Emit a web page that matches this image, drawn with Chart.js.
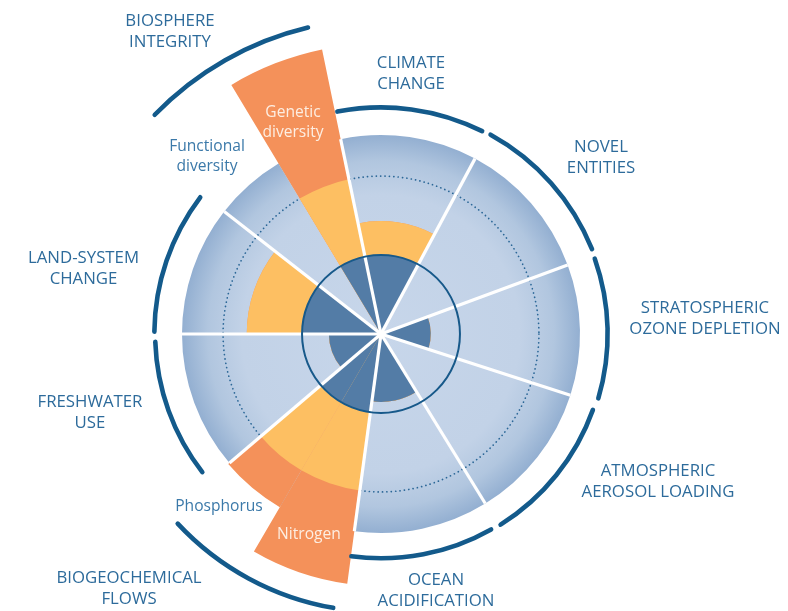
<!DOCTYPE html>
<html>
<head>
<meta charset="utf-8">
<script src="https://cdn.jsdelivr.net/npm/chart.js@4.4.1/dist/chart.umd.min.js"></script>
<style>
  html, body { margin: 0; padding: 0; background: #fff; }
  #wrap { position: relative; width: 788px; height: 611px; }
</style>
</head>
<body>
<div id="wrap"><canvas id="pb"></canvas></div>
<script>
// ── data ──
// sub-sectors, clockwise, starting just left of north
const segments = ['Climate change', 'Novel entities', 'Stratospheric ozone depletion',
  'Atmospheric aerosol loading', 'Ocean acidification', 'Nitrogen', 'Phosphorus',
  'Freshwater use', 'Land-system change', 'Functional diversity', 'Genetic diversity'];
// angular width of each sub-sector (deg)
const segmentAngles = [39.9, 41.5, 38.2, 40.5, 39.3, 22.6, 19.3, 40.4, 38.0, 21.0, 19.3];
// control variable, in multiples of the boundary (null = not yet quantified)
const status = [1.43, null, 0.63, null, 0.86, 3.19, 2.54, 0.66, 1.70, null, 3.68];
// white divider at the start of the sub-sector
const dividers = [true, true, true, true, true, true, false, true, true, true, false];
const START_ANGLE = 348.3;

const SAFE = 1;        // planetary boundary (solid ring)
const HIGH_RISK = 2;   // end of the zone of uncertainty (dotted ring)
const DISK = 2.52;     // rim of the blue disk

// brackets around the nine processes
const bracketFrom = [348.9, 28.8, 70.6, 109.7, 150.6, 189.9, 232.3, 270.6, 314.1];
const bracketTo   = [26.5, 68.1, 106.5, 147.9, 187.6, 227.0, 268.0, 307.1, 346.6];
const bracketR    = [2.87, 2.88, 2.87, 2.85, 2.84, 3.52, 2.86, 2.87, 3.99];

const titles = [['CLIMATE', 'CHANGE'], ['NOVEL', 'ENTITIES'], ['STRATOSPHERIC', 'OZONE DEPLETION'],
  ['ATMOSPHERIC', 'AEROSOL LOADING'], ['OCEAN', 'ACIDIFICATION'], ['BIOGEOCHEMICAL', 'FLOWS'],
  ['FRESHWATER', 'USE'], ['LAND-SYSTEM', 'CHANGE'], ['BIOSPHERE', 'INTEGRITY']];
const subTitles = [['Functional', 'diversity'], ['Genetic', 'diversity'], ['Phosphorus'], ['Nitrogen']];

// ── layout / styles ──
const titlePos = [[411, 63], [601, 147], [705, 308], [658, 471], [436, 580], [129, 578], [90, 402], [83.5, 258], [170, 21]];
const subPos = [[207, 147], [293, 113], [219, 507], [309, 535]];
const subOnOrange = [false, true, false, true];

const C = {
  safe: '#537ca6',
  risk: '#fdbf62',
  high: '#f4915a',
  ring: '#17598a',
  dots: '#2b6797',
  bracket: '#135a8b',
  title: '#2d6b9b',
  sub: '#3b79a9',
  onOrange: '#fdeee2',
};
const FONT = '"Open Sans", "DejaVu Sans", sans-serif';

const rad = d => (d - 90) * Math.PI / 180;

const safePart = status.map(v => v == null ? 0 : Math.min(v, SAFE));
const riskPart = status.map(v => v == null ? 0 : Math.min(v, HIGH_RISK));
const highPart = status.map(v => v == null ? 0 : v);
const diskPart = segments.map(() => DISK);

function diskFill(c) {
  const s = c.chart.scales.r;
  if (!s || !s.drawingArea) return '#c3d3e8';
  const g = c.chart.ctx.createRadialGradient(s.xCenter, s.yCenter, 0, s.xCenter, s.yCenter, s.drawingArea);
  g.addColorStop(0, '#c7d6ea');
  g.addColorStop(0.7, '#c2d2e7');
  g.addColorStop(0.87, '#b1c6df');
  g.addColorStop(1, '#93afd1');
  return g;
}

const pbPlugin = {
  id: 'pb',
  afterDatasetDraw(chart, args) {
    // dotted ring sits on the disk, under the coloured wedges
    if (args.index !== 3) return;
    const s = chart.scales.r, ctx = chart.ctx;
    ctx.save();
    ctx.strokeStyle = C.dots;
    ctx.lineWidth = 1.7;
    ctx.lineCap = 'round';
    ctx.setLineDash([0.1, 4.3]);
    ctx.beginPath();
    ctx.arc(s.xCenter, s.yCenter, s.getDistanceFromCenterForValue(HIGH_RISK), 0, Math.PI * 2);
    ctx.stroke();
    ctx.restore();
  },
  afterDatasetsDraw(chart) {
    const s = chart.scales.r, ctx = chart.ctx;
    const rEdge = s.getDistanceFromCenterForValue(DISK);
    ctx.save();
    ctx.strokeStyle = '#ffffff';
    ctx.lineWidth = 3.2;
    let a = START_ANGLE;
    segmentAngles.forEach((w, i) => {
      if (dividers[i]) {
        ctx.beginPath();
        ctx.moveTo(s.xCenter, s.yCenter);
        ctx.lineTo(s.xCenter + rEdge * Math.cos(rad(a)), s.yCenter + rEdge * Math.sin(rad(a)));
        ctx.stroke();
      }
      a += w;
    });
    ctx.restore();
  },
  afterDraw(chart) {
    const s = chart.scales.r, ctx = chart.ctx;
    ctx.save();
    // brackets
    ctx.strokeStyle = C.bracket;
    ctx.lineWidth = 4.6;
    ctx.lineCap = 'round';
    bracketFrom.forEach((f, i) => {
      const span = (bracketTo[i] - f + 360) % 360;
      ctx.beginPath();
      ctx.arc(s.xCenter, s.yCenter, s.getDistanceFromCenterForValue(bracketR[i]), rad(f), rad(f + span));
      ctx.stroke();
    });
    // labels
    ctx.textAlign = 'center';
    ctx.textBaseline = 'middle';
    ctx.fillStyle = C.title;
    ctx.font = '400 16.8px ' + FONT;
    titles.forEach((lines, i) => {
      lines.forEach((t, j) => ctx.fillText(t, titlePos[i][0], titlePos[i][1] + j * 21));
    });
    ctx.font = '400 15.6px ' + FONT;
    subTitles.forEach((lines, i) => {
      ctx.fillStyle = subOnOrange[i] ? C.onOrange : C.sub;
      lines.forEach((t, j) => ctx.fillText(t, subPos[i][0], subPos[i][1] + j * 20));
    });
    ctx.restore();
  }
};

new Chart(document.getElementById('pb'), {
  type: 'polarArea',
  data: {
    labels: segments,
    datasets: [
      { label: 'Below boundary', data: safePart, backgroundColor: C.safe },
      { label: 'Zone of increasing risk', data: riskPart, backgroundColor: C.risk },
      { label: 'High risk', data: highPart, backgroundColor: C.high },
      { label: 'Disk', data: diskPart, backgroundColor: diskFill },
    ].map(d => Object.assign(d, { angle: segmentAngles, borderWidth: 0, clip: false })),
  },
  options: {
    responsive: true,
    maintainAspectRatio: false,
    animation: false,
    events: [],
    layout: { padding: { left: 182, right: 207, top: 135, bottom: 78 } },
    plugins: { legend: { display: false }, tooltip: { enabled: false } },
    scales: {
      r: {
        min: 0,
        max: DISK,
        startAngle: START_ANGLE,
        ticks: { display: false, stepSize: 1, z: 1 },
        grid: {
          z: 1,
          circular: true,
          color: c => (c.tick && c.tick.value === SAFE) ? C.ring : 'rgba(0,0,0,0)',
          lineWidth: c => (c.tick && c.tick.value === SAFE) ? 2 : 0,
        },
        angleLines: { display: false },
        pointLabels: { display: false },
      },
    },
  },
  plugins: [pbPlugin],
});
</script>
</body>
</html>
